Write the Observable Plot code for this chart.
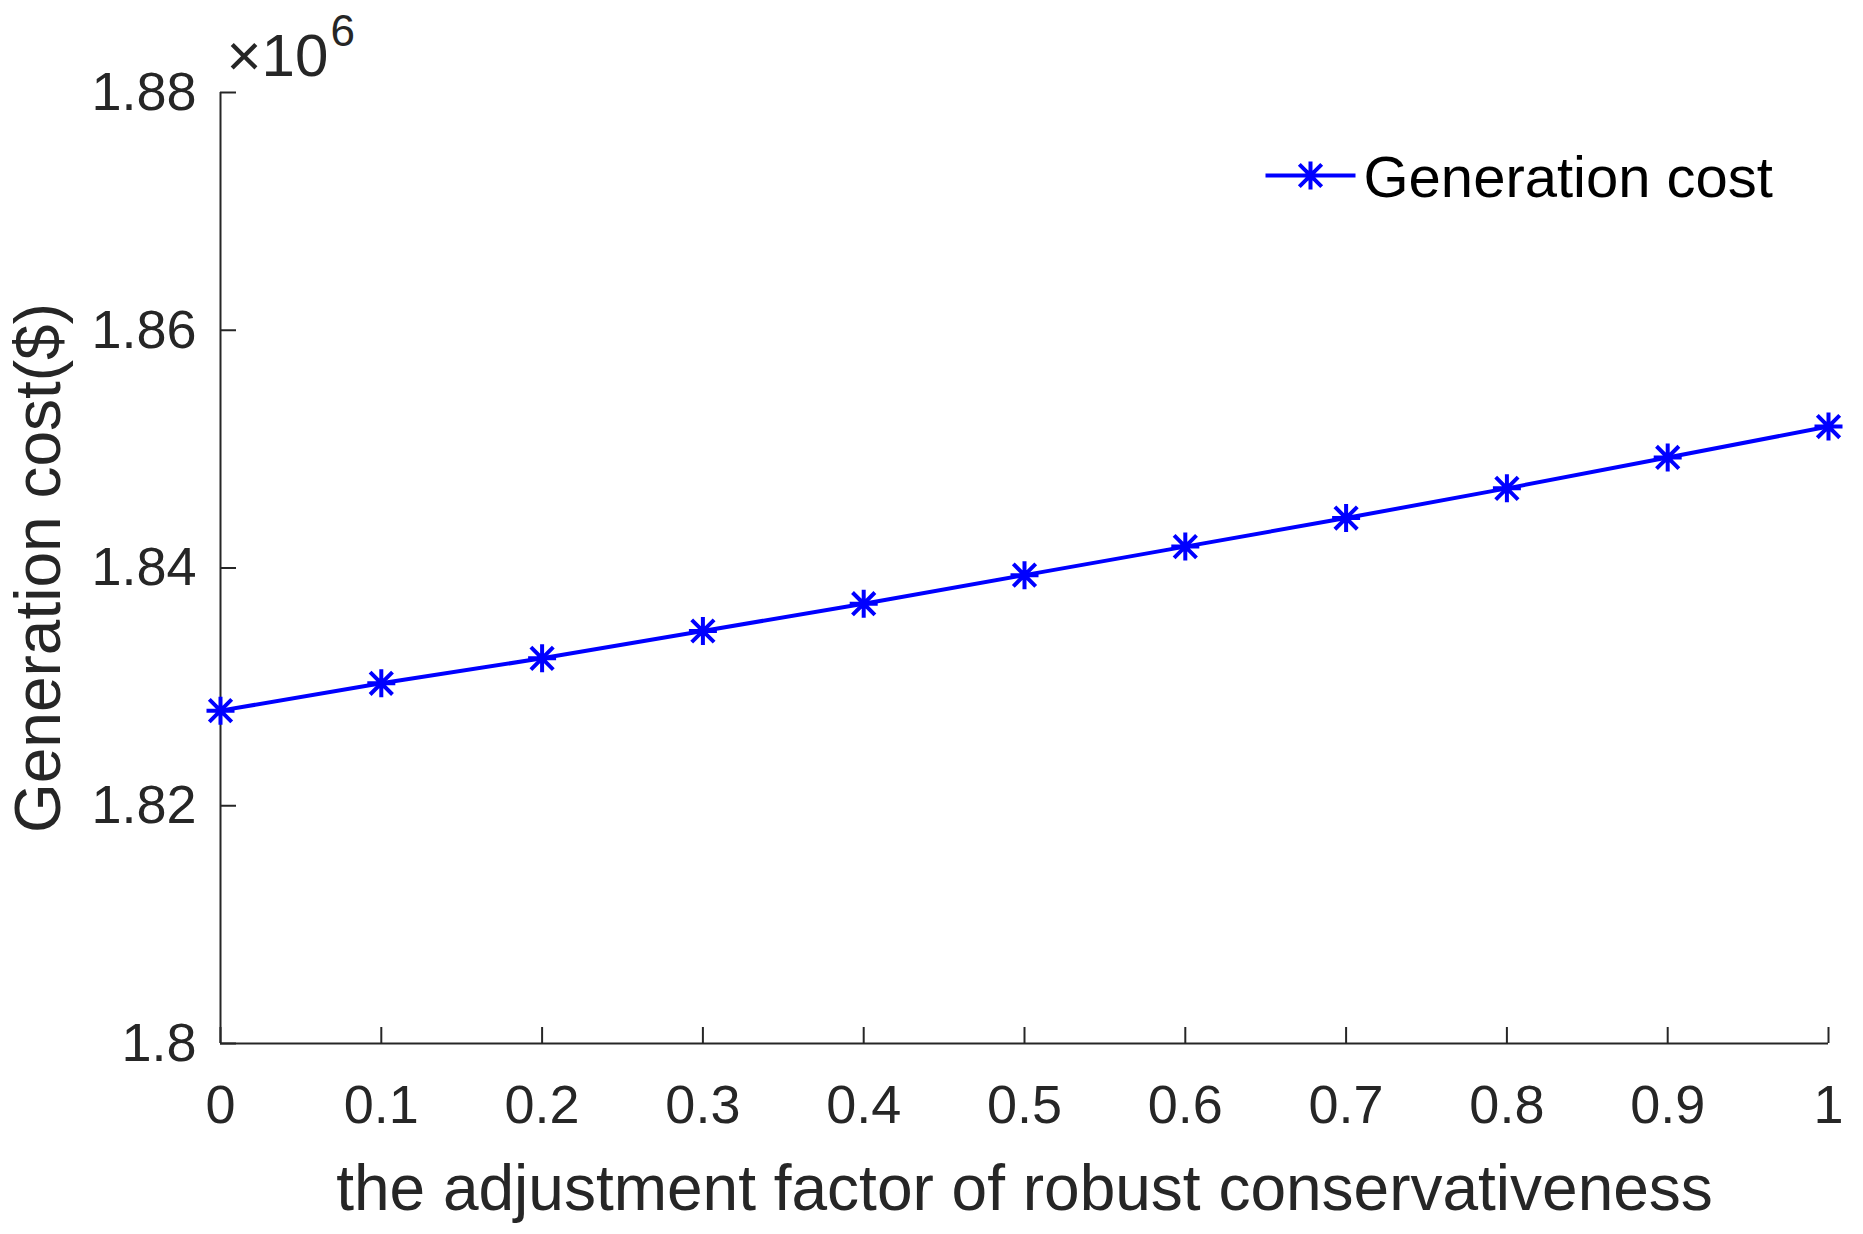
<!DOCTYPE html>
<html>
<head>
<meta charset="utf-8">
<script src="https://cdn.jsdelivr.net/npm/d3@7"></script>
<script src="https://cdn.jsdelivr.net/npm/@observablehq/plot@0.6"></script>
<style>
  html, body { margin: 0; padding: 0; background: #ffffff; }
  #chart svg { display: block; }
</style>
</head>
<body>
<div id="chart"></div>
<script>
// Data (generation cost in units of 10^6 $)
const factors = [0, 0.1, 0.2, 0.3, 0.4, 0.5, 0.6, 0.7, 0.8, 0.9, 1.0];
const costs   = [1.8280, 1.8303, 1.8324, 1.8347, 1.8370, 1.8394, 1.8418, 1.8442, 1.8467, 1.8493, 1.8519];
const xTicks  = [0, 0.1, 0.2, 0.3, 0.4, 0.5, 0.6, 0.7, 0.8, 0.9, 1];
const yTicks  = [1.80, 1.82, 1.84, 1.86, 1.88];
const seriesName = "Generation cost";
const xLabel = "the adjustment factor of robust conservativeness";
const yLabel = "Generation cost($)";

const data = factors.map((f, i) => ({factor: f, cost: costs[i]}));

const W = 1863, H = 1234;
const mL = 220, mR = 35, mT = 92, mB = 191;
const plotW = W - mL - mR, plotH = H - mT - mB;
const tickLen = 16;
const ink = "#262626";
const blue = "#0000ff";
const font = "Liberation Sans, Arial, Helvetica, sans-serif";

// MATLAB-like asterisk: "+" combined with "x"
const asterisk = {
  draw(ctx, size) {
    const r = Math.sqrt(size / Math.PI);
    const d = r * 0.8;
    ctx.moveTo(0, -r); ctx.lineTo(0, r);
    ctx.moveTo(-r, 0); ctx.lineTo(r, 0);
    ctx.moveTo(-d, -d); ctx.lineTo(d, d);
    ctx.moveTo(-d, d); ctx.lineTo(d, -d);
  }
};
// legend glyph: line segment with asterisk
const legendGlyph = {
  draw(ctx, size) {
    const r = Math.sqrt(size / Math.PI);
    const d = r * 0.8;
    ctx.moveTo(-45, 0); ctx.lineTo(45, 0);
    ctx.moveTo(0, -r); ctx.lineTo(0, r);
    ctx.moveTo(-d, -d); ctx.lineTo(d, d);
    ctx.moveTo(-d, d); ctx.lineTo(d, -d);
  }
};

const chart = Plot.plot({
  width: W,
  height: H,
  marginLeft: mL,
  marginRight: mR,
  marginTop: mT,
  marginBottom: mB,
  style: {fontFamily: font, color: ink, background: "#ffffff", overflow: "visible"},
  x: {domain: [0, 1]},
  y: {domain: [1.80, 1.88]},
  marks: [
    // axis lines
    Plot.ruleY([yTicks[0]], {stroke: ink, strokeWidth: 2}),
    Plot.ruleX([xTicks[0]], {stroke: ink, strokeWidth: 2}),
    // inward ticks
    Plot.tickX(xTicks, {x: d => d, stroke: ink, strokeWidth: 2, insetTop: plotH - tickLen}),
    Plot.tickY(yTicks, {y: d => d, stroke: ink, strokeWidth: 2, insetRight: plotW - tickLen}),
    // tick labels
    Plot.axisX({ticks: xTicks, tickSize: 0, tickPadding: 41, tickFormat: d => String(d), fontSize: 54, label: null}),
    Plot.axisY({ticks: yTicks, tickSize: 0, tickPadding: 24, tickFormat: d => String(+d.toFixed(2)), fontSize: 54, label: null}),
    // axis titles
    Plot.text([xLabel], {frameAnchor: "bottom", dy: 146, textAnchor: "middle", lineAnchor: "middle", fontSize: 64, fill: ink}),
    Plot.text([yLabel], {frameAnchor: "left", dx: -181, rotate: -90, textAnchor: "middle", lineAnchor: "middle", fontSize: 64, fill: ink}),
    // exponent annotation
    Plot.text(["×10"], {frameAnchor: "top-left", dx: 6, dy: -36, textAnchor: "start", lineAnchor: "middle", fontSize: 60, fill: ink}),
    Plot.text(["6"], {frameAnchor: "top-left", dx: 110, dy: -61, textAnchor: "start", lineAnchor: "middle", fontSize: 44, fill: ink}),
    // series
    Plot.line(data, {x: "factor", y: "cost", stroke: blue, strokeWidth: 4}),
    Plot.dot(data, {x: "factor", y: "cost", symbol: asterisk, r: 14, stroke: blue, strokeWidth: 4, fill: "none"}),
    // legend
    Plot.dot([seriesName], {frameAnchor: "top-right", dx: -518, dy: 83, symbol: legendGlyph, r: 14, stroke: blue, strokeWidth: 4, fill: "none"}),
    Plot.text([seriesName], {frameAnchor: "top-right", dx: -465, dy: 86, textAnchor: "start", lineAnchor: "middle", fontSize: 58, fill: "#000000"})
  ]
});
document.getElementById("chart").appendChild(chart);
</script>
</body>
</html>
